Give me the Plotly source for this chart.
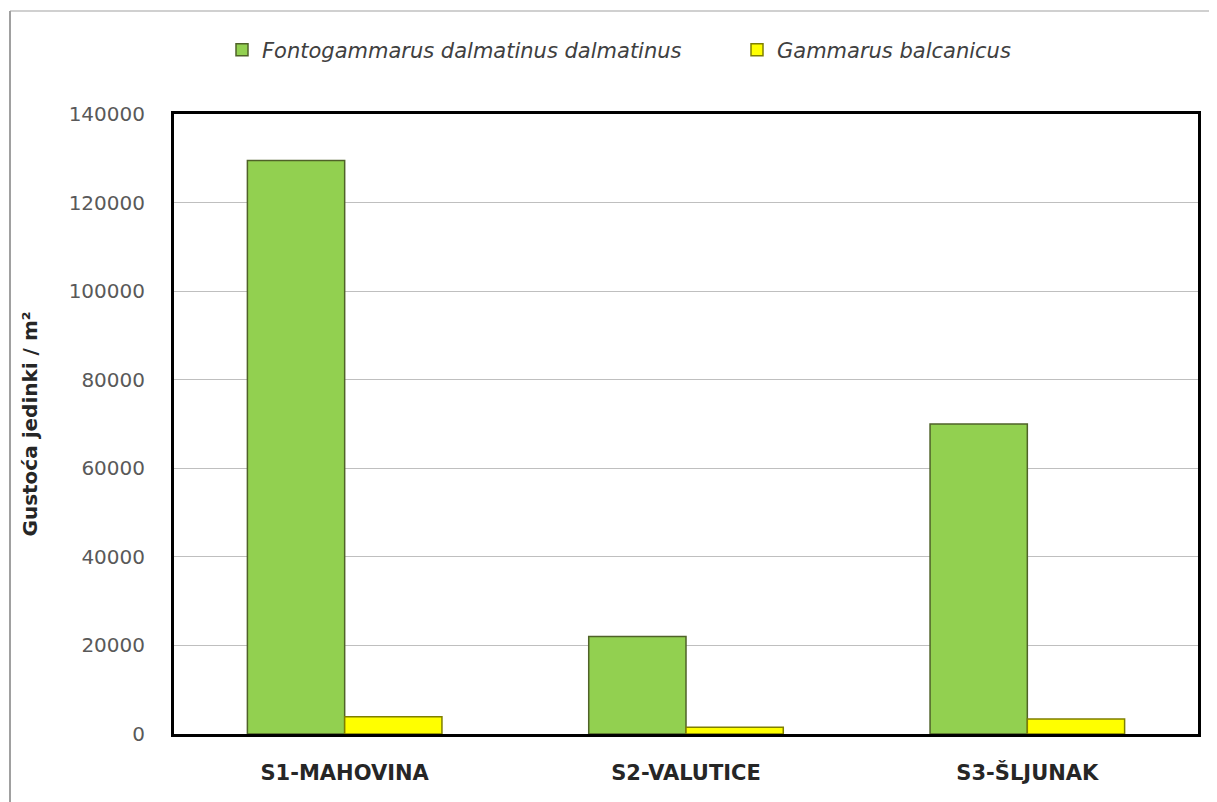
import plotly.graph_objects as go

categories = ["S1-MAHOVINA", "S2-VALUTICE", "S3-ŠLJUNAK"]
fonto = [129500, 22000, 70000]
gammarus = [3900, 1500, 3400]
series_names = ["Fontogammarus dalmatinus dalmatinus", "Gammarus balcanicus"]
y_ticks = [0, 20000, 40000, 60000, 80000, 100000, 120000, 140000]

OFF = 8  # default body margin of the html page
W, H = 1217 - OFF, 802 - OFF
L, T = 174 - OFF, 114 - OFF
R = W - (1198 - OFF)
B = H - (734 - OFF)
pw, ph = W - L - R, H - T - B

def px(x):
    return (x - OFF - L) / pw

def py(y):
    return (H - B - (y - OFF)) / ph

fig = go.Figure()
fig.add_trace(go.Bar(x=categories, y=fonto, name=series_names[0], legend="legend",
                     marker=dict(color="#92D050", line=dict(color="#4F6228", width=1.5))))
fig.add_trace(go.Bar(x=categories, y=gammarus, name=series_names[1], legend="legend2",
                     marker=dict(color="#FFFF00", line=dict(color="#7F7F00", width=1.5))))

leg_font = dict(size=21, family="DejaVu Sans, sans-serif", color="#404040", style="italic")

fig.update_layout(
    width=W, height=H,
    margin=dict(l=L, r=R, t=T, b=B),
    paper_bgcolor="white", plot_bgcolor="white",
    barmode="group", bargap=0.43, bargroupgap=0,
    font=dict(family="DejaVu Sans, sans-serif", color="#404040"),
    showlegend=True,
    legend=dict(orientation="h", x=px(222), xanchor="left", y=py(50), yanchor="middle",
                font=leg_font, itemwidth=30, bgcolor="rgba(0,0,0,0)"),
    legend2=dict(orientation="h", x=px(737), xanchor="left", y=py(50), yanchor="middle",
                 font=leg_font, itemwidth=30, bgcolor="rgba(0,0,0,0)"),
    xaxis=dict(showline=True, linecolor="black", linewidth=3, mirror=True,
               tickfont=dict(size=21, family="DejaVu Sans, sans-serif", color="#262626", weight="bold"),
               ticks="", ticklabelstandoff=18),
    yaxis=dict(range=[0, 140000], tickvals=y_ticks, ticktext=[str(v) for v in y_ticks],
               showline=True, linecolor="black", linewidth=3, mirror=True,
               showgrid=True, gridcolor="#BFBFBF", gridwidth=1,
               tickfont=dict(size=20, family="DejaVu Sans, sans-serif", color="#595959"),
               ticks="", ticklabelstandoff=22,
               title=dict(text="Gustoća jedinki / m²", standoff=26,
                          font=dict(size=20, family="DejaVu Sans, sans-serif", color="#262626", weight="bold"))),
    shapes=[
        dict(type="line", xref="paper", yref="paper", x0=px(10), x1=px(1400), y0=py(11), y1=py(11),
             line=dict(color="#D0D0D0", width=2)),
        dict(type="line", xref="paper", yref="paper", x0=px(10), x1=px(10), y0=py(11), y1=py(1000),
             line=dict(color="#A0A0A0", width=2)),
    ],
)

fig.write_html("out.html")
